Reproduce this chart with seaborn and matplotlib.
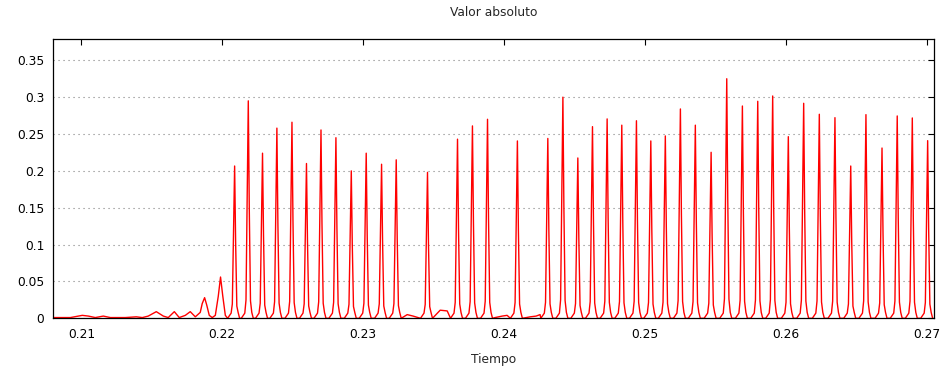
import numpy as np
import pandas as pd
import matplotlib
matplotlib.use("Agg")
import matplotlib.pyplot as plt
from matplotlib.ticker import FormatStrFormatter, MultipleLocator
import seaborn as sns

# ---- data ----
peak_t = [0.22088, 0.22185, 0.22286, 0.22388, 0.22495, 0.22598, 0.22701, 0.22807,
          0.22916, 0.23022, 0.23131, 0.23235, 0.23457, 0.23670, 0.23776, 0.23883,
          0.24095, 0.24311, 0.24418, 0.24524, 0.24628, 0.24732, 0.24836, 0.24940,
          0.25042, 0.25145, 0.25252, 0.25358, 0.25470, 0.25581, 0.25692, 0.25801,
          0.25907, 0.26018, 0.26127, 0.26238, 0.26349, 0.26461, 0.26569, 0.26683,
          0.26791, 0.26898, 0.27007]
peak_v = [0.2066, 0.295, 0.224, 0.258, 0.266, 0.210, 0.2555, 0.245,
          0.200, 0.224, 0.209, 0.215, 0.198, 0.243, 0.261, 0.270,
          0.2406, 0.244, 0.300, 0.2175, 0.260, 0.2705, 0.262, 0.268,
          0.2406, 0.2474, 0.284, 0.262, 0.2252, 0.325, 0.288, 0.2944,
          0.3016, 0.2464, 0.2917, 0.2768, 0.2722, 0.2066, 0.2763, 0.231,
          0.2745, 0.2718, 0.241]

base_t = [0.20801, 0.20922, 0.20979, 0.21007, 0.21050, 0.21099, 0.21156, 0.21206,
          0.21312, 0.21390, 0.21433, 0.21475, 0.21532, 0.21582, 0.21617, 0.21660,
          0.21695, 0.21738, 0.21773, 0.21809, 0.21844, 0.21858, 0.21875, 0.21890,
          0.21908, 0.21929, 0.21951, 0.21972, 0.21988, 0.22004, 0.22022, 0.22036,
          0.22054,
          0.23270, 0.23313, 0.23355, 0.23405, 0.23433,
          0.23490, 0.23547, 0.23597, 0.23639,
          0.23937, 0.23987, 0.24022, 0.24051,
          0.24136, 0.24157, 0.24186, 0.24228, 0.24256]
base_v = [0.001, 0.001, 0.003, 0.004, 0.003, 0.001, 0.003, 0.001,
          0.001, 0.002, 0.001, 0.003, 0.009, 0.003, 0.001, 0.009,
          0.001, 0.004, 0.009, 0.002, 0.008, 0.020, 0.028, 0.018,
          0.004, 0.001, 0.004, 0.030, 0.056, 0.030, 0.004, 0.001,
          0.003,
          0.0015, 0.005, 0.003, 0.002, 0.0015,
          0.009, 0.011, 0.010, 0.009,
          0.001, 0.003, 0.004, 0.005,
          0.003, 0.001, 0.002, 0.003, 0.005]

# ---- pulse drawing style (shape of each spike, in seconds / fractions) ----
PX = 1.0 / 14095.0
shape_dt = np.array([-7, -3.5, -2.3, -1.1, 0, 1.0, 2.2, 3.5, 5]) * PX
shape_frac = np.array([0, 0, 0.06, 0.55, 1.0, 0.5, 0.08, 0, 0])
shape_add = np.array([0, 0.007, 0.007, 0, 0, 0, 0, 0.008, 0])

ts, vs = [], []
for t, h in zip(peak_t, peak_v):
    ts.extend(t + shape_dt)
    vs.extend(shape_frac * h + shape_add)
pk = np.array(peak_t)
for t, v in zip(base_t, base_v):
    if np.min(np.abs(pk - t)) > 7.5 * PX:
        ts.append(t)
        vs.append(v)
df = pd.DataFrame({"Tiempo": ts, "Valor": vs}).sort_values("Tiempo")

# ---- figure ----
sns.set_style("white")
plt.rcParams["font.family"] = ["DejaVu Sans"]
fig = plt.figure(figsize=(9.49, 3.71), dpi=100)
ax = fig.add_axes([53.3 / 949, 1 - 318.3 / 371, (934 - 53.3) / 949, (318.3 - 39.3) / 371])

sns.lineplot(data=df, x="Tiempo", y="Valor", ax=ax, color="#ff0000",
             linewidth=1.0, sort=False, estimator=None)

ax.set_xlim(0.20801, 0.27052)
ax.set_ylim(0, 0.3785)
ax.xaxis.set_major_locator(MultipleLocator(0.01))
ax.yaxis.set_major_locator(MultipleLocator(0.05))
ax.xaxis.set_major_formatter(FormatStrFormatter("%g"))
ax.yaxis.set_major_formatter(FormatStrFormatter("%g"))
ax.tick_params(direction="in", length=4.5, width=0.8, top=True, right=True,
               labelsize=8.8, colors="black")
ax.tick_params(axis="x", pad=7)
ax.tick_params(axis="y", pad=6.5)
for s in ax.spines.values():
    s.set_visible(True)
    s.set_color("black")
    s.set_linewidth(0.9)
ax.yaxis.grid(True, color="#808080", linestyle=(0, (1, 3.5)), linewidth=0.8)
ax.xaxis.grid(False)
ax.set_xlabel("")
ax.set_ylabel("")
fig.text(493.5 / 949, 1 - 13 / 371, "Valor absoluto", ha="center", va="center", fontsize=8.8)
fig.text(493.5 / 949, 1 - 360 / 371, "Tiempo", ha="center", va="center", fontsize=8.8)

fig.savefig("out.png", dpi=100)
